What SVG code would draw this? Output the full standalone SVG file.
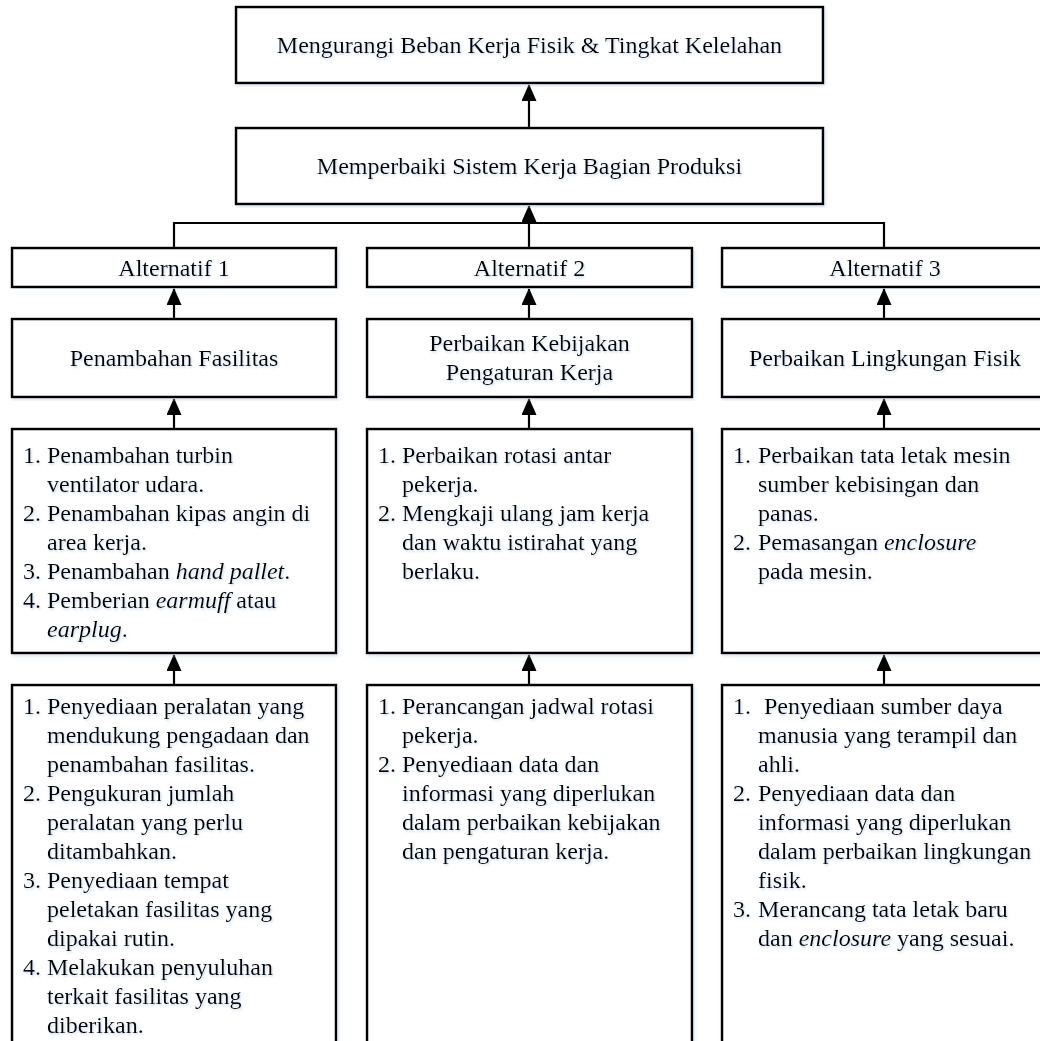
<svg xmlns="http://www.w3.org/2000/svg" width="1040" height="1041" viewBox="0 0 1040 1041">
<style>
  .box { fill: #ffffff; stroke: #000000; stroke-width: 2.5; }
  .t { font-family: "Liberation Serif", "Times New Roman", serif; font-size: 24px; fill: #000000; filter: url(#tshadow); }
  .c { text-anchor: middle; }
  .i { font-style: italic; }
  .conn { fill: none; stroke: #000000; stroke-width: 2.2; }
</style>
<defs>
  <filter id="tshadow" x="-5%" y="-30%" width="110%" height="160%">
    <feDropShadow dx="1" dy="1.5" stdDeviation="1.2" flood-color="#9fb6d8" flood-opacity="0.55"/>
  </filter>
  <filter id="bshadow" x="-5%" y="-5%" width="110%" height="110%">
    <feDropShadow dx="1.5" dy="2" stdDeviation="1.5" flood-color="#b8c8e0" flood-opacity="0.5"/>
  </filter>
  <marker id="arrow" markerUnits="userSpaceOnUse" markerWidth="17" markerHeight="15" viewBox="0 0 17 15" refX="16" refY="7.5" orient="auto">
    <path d="M0,0 L17,7.5 L0,15 Z" fill="#000000"/>
  </marker>
</defs>

<g id="connectors">
  <line class="conn" x1="529" y1="128" x2="529" y2="85" marker-end="url(#arrow)"/>
  <line class="conn" x1="529" y1="248" x2="529" y2="206" marker-end="url(#arrow)"/>
  <polyline class="conn" points="174,248 174,223 884,223 884,248"/>
  <line class="conn" x1="174" y1="319" x2="174" y2="289" marker-end="url(#arrow)"/>
  <line class="conn" x1="529" y1="319" x2="529" y2="289" marker-end="url(#arrow)"/>
  <line class="conn" x1="884" y1="319" x2="884" y2="289" marker-end="url(#arrow)"/>
  <line class="conn" x1="174" y1="429" x2="174" y2="399" marker-end="url(#arrow)"/>
  <line class="conn" x1="529" y1="429" x2="529" y2="399" marker-end="url(#arrow)"/>
  <line class="conn" x1="884" y1="429" x2="884" y2="399" marker-end="url(#arrow)"/>
  <line class="conn" x1="174" y1="685" x2="174" y2="655" marker-end="url(#arrow)"/>
  <line class="conn" x1="529" y1="685" x2="529" y2="655" marker-end="url(#arrow)"/>
  <line class="conn" x1="884" y1="685" x2="884" y2="655" marker-end="url(#arrow)"/>
</g>

<g id="goal">
  <rect class="box" x="236" y="7" width="587" height="76" filter="url(#bshadow)"/>
  <text class="t c" x="529.5" y="53">Mengurangi Beban Kerja Fisik &amp; Tingkat Kelelahan</text>
</g>

<g id="objective">
  <rect class="box" x="236" y="128" width="587" height="76" filter="url(#bshadow)"/>
  <text class="t c" x="529.5" y="174">Memperbaiki Sistem Kerja Bagian Produksi</text>
</g>

<g id="alt1">
  <rect class="box" x="12" y="248" width="324" height="39" filter="url(#bshadow)"/>
  <text class="t c" x="174" y="276">Alternatif 1</text>
</g>
<g id="alt2">
  <rect class="box" x="367" y="248" width="325" height="39" filter="url(#bshadow)"/>
  <text class="t c" x="529.5" y="276">Alternatif 2</text>
</g>
<g id="alt3">
  <rect class="box" x="722" y="248" width="325" height="39" filter="url(#bshadow)"/>
  <text class="t c" x="885" y="276">Alternatif 3</text>
</g>

<g id="strategy1">
  <rect class="box" x="12" y="319" width="324" height="78" filter="url(#bshadow)"/>
  <text class="t c" x="174" y="366">Penambahan Fasilitas</text>
</g>
<g id="strategy2">
  <rect class="box" x="367" y="319" width="325" height="78" filter="url(#bshadow)"/>
  <text class="t c" x="529.5" y="351">Perbaikan Kebijakan</text>
  <text class="t c" x="529.5" y="380">Pengaturan Kerja</text>
</g>
<g id="strategy3">
  <rect class="box" x="722" y="319" width="325" height="78" filter="url(#bshadow)"/>
  <text class="t c" x="885" y="366">Perbaikan Lingkungan Fisik</text>
</g>

<g id="actions1">
  <rect class="box" x="12" y="429" width="324" height="224" filter="url(#bshadow)"/>
  <text class="t" x="23" y="463">1.</text><text class="t" x="47" y="463">Penambahan turbin</text>
  <text class="t" x="47" y="492">ventilator udara.</text>
  <text class="t" x="23" y="521">2.</text><text class="t" x="47" y="521">Penambahan kipas angin di</text>
  <text class="t" x="47" y="550">area kerja.</text>
  <text class="t" x="23" y="579">3.</text><text class="t" x="47" y="579">Penambahan <tspan class="i">hand pallet</tspan>.</text>
  <text class="t" x="23" y="608">4.</text><text class="t" x="47" y="608">Pemberian <tspan class="i">earmuff</tspan> atau</text>
  <text class="t" x="47" y="637"><tspan class="i">earplug</tspan>.</text>
</g>
<g id="actions2">
  <rect class="box" x="367" y="429" width="325" height="224" filter="url(#bshadow)"/>
  <text class="t" x="378" y="463">1.</text><text class="t" x="402" y="463">Perbaikan rotasi antar</text>
  <text class="t" x="402" y="492">pekerja.</text>
  <text class="t" x="378" y="521">2.</text><text class="t" x="402" y="521">Mengkaji ulang jam kerja</text>
  <text class="t" x="402" y="550">dan waktu istirahat yang</text>
  <text class="t" x="402" y="579">berlaku.</text>
</g>
<g id="actions3">
  <rect class="box" x="722" y="429" width="325" height="224" filter="url(#bshadow)"/>
  <text class="t" x="733" y="463">1.</text><text class="t" x="758" y="463">Perbaikan tata letak mesin</text>
  <text class="t" x="758" y="492">sumber kebisingan dan</text>
  <text class="t" x="758" y="521">panas.</text>
  <text class="t" x="733" y="550">2.</text><text class="t" x="758" y="550">Pemasangan <tspan class="i">enclosure</tspan></text>
  <text class="t" x="758" y="579">pada mesin.</text>
</g>

<g id="support1">
  <rect class="box" x="12" y="685" width="324" height="370" filter="url(#bshadow)"/>
  <text class="t" x="23" y="714">1.</text><text class="t" x="47" y="714">Penyediaan peralatan yang</text>
  <text class="t" x="47" y="743">mendukung pengadaan dan</text>
  <text class="t" x="47" y="772">penambahan fasilitas.</text>
  <text class="t" x="23" y="801">2.</text><text class="t" x="47" y="801">Pengukuran jumlah</text>
  <text class="t" x="47" y="830">peralatan yang perlu</text>
  <text class="t" x="47" y="859">ditambahkan.</text>
  <text class="t" x="23" y="888">3.</text><text class="t" x="47" y="888">Penyediaan tempat</text>
  <text class="t" x="47" y="917">peletakan fasilitas yang</text>
  <text class="t" x="47" y="946">dipakai rutin.</text>
  <text class="t" x="23" y="975">4.</text><text class="t" x="47" y="975">Melakukan penyuluhan</text>
  <text class="t" x="47" y="1004">terkait fasilitas yang</text>
  <text class="t" x="47" y="1033">diberikan.</text>
</g>
<g id="support2">
  <rect class="box" x="367" y="685" width="325" height="370" filter="url(#bshadow)"/>
  <text class="t" x="378" y="714">1.</text><text class="t" x="402" y="714">Perancangan jadwal rotasi</text>
  <text class="t" x="402" y="743">pekerja.</text>
  <text class="t" x="378" y="772">2.</text><text class="t" x="402" y="772">Penyediaan data dan</text>
  <text class="t" x="402" y="801">informasi yang diperlukan</text>
  <text class="t" x="402" y="830">dalam perbaikan kebijakan</text>
  <text class="t" x="402" y="859">dan pengaturan kerja.</text>
</g>
<g id="support3">
  <rect class="box" x="722" y="685" width="325" height="370" filter="url(#bshadow)"/>
  <text class="t" x="733" y="714">1.</text><text class="t" x="764" y="714">Penyediaan sumber daya</text>
  <text class="t" x="758" y="743">manusia yang terampil dan</text>
  <text class="t" x="758" y="772">ahli.</text>
  <text class="t" x="733" y="801">2.</text><text class="t" x="758" y="801">Penyediaan data dan</text>
  <text class="t" x="758" y="830">informasi yang diperlukan</text>
  <text class="t" x="758" y="859">dalam perbaikan lingkungan</text>
  <text class="t" x="758" y="888">fisik.</text>
  <text class="t" x="733" y="917">3.</text><text class="t" x="758" y="917">Merancang tata letak baru</text>
  <text class="t" x="758" y="946">dan <tspan class="i">enclosure</tspan> yang sesuai.</text>
</g>
</svg>
